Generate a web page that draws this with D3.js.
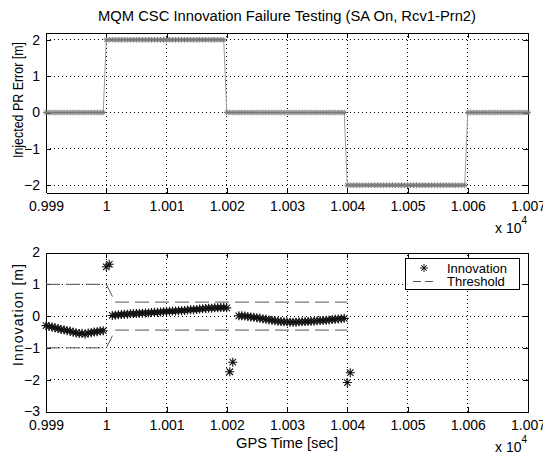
<!DOCTYPE html>
<html>
<head>
<meta charset="utf-8">
<script src="https://cdn.jsdelivr.net/npm/d3@7.9.0/dist/d3.min.js"></script>
<style>
  body { margin: 0; background: #fff; }
  text { font-family: "Liberation Sans", Arial, sans-serif; fill: #000; }
  .axis path, .axis line { stroke: #000; shape-rendering: crispEdges; }
  .axis text { font-size: 14px; font-family: "Liberation Sans", Arial, sans-serif; }
  .grid line { stroke: #000; stroke-dasharray: 1,3; shape-rendering: crispEdges; }
</style>
</head>
<body>
<svg id="chart" width="543" height="457"></svg>
<script>
// GPS time ticks (sec) and their labels (shown in units of 1e4)
const xTicks = [9990, 10000, 10010, 10020, 10030, 10040, 10050, 10060, 10070];
const xTickLabels = ['0.999', '1', '1.001', '1.002', '1.003', '1.004', '1.005', '1.006', '1.007'];
const topYTicks = [-2, -1, 0, 1, 2];
const botYTicks = [-3, -2, -1, 0, 1, 2];

// injected pseudorange error: a level held from each switch time
const stepTimes = [9990, 10000, 10020, 10040, 10060];
const stepLevels = [0, 2, 0, -2, 0];
const sampleStep = 0.5;

// innovation samples, one run per start time, 0.5 s apart
const innovStarts = [9990, 10000, 10001, 10020.5, 10022, 10040];
const innovRuns = [
  [-0.30, -0.33, -0.34, -0.37, -0.39, -0.42, -0.43, -0.46, -0.47, -0.51, -0.52, -0.55, -0.54, -0.57, -0.53, -0.52, -0.50, -0.49, -0.47, -0.46],
  [1.55, 1.63],
  [0.02, 0.03, 0.04, 0.05, 0.06, 0.06, 0.07, 0.08, 0.08, 0.09, 0.09, 0.10, 0.10, 0.11, 0.12, 0.12, 0.13, 0.14, 0.15, 0.15,
   0.16, 0.16, 0.17, 0.17, 0.18, 0.19, 0.20, 0.20, 0.21, 0.22, 0.23, 0.24, 0.25, 0.25, 0.26, 0.26, 0.27, 0.27, 0.26],
  [-1.75, -1.45],
  [0.01, 0.01, 0.00, -0.01, -0.03, -0.04, -0.05, -0.07, -0.08, -0.10, -0.12, -0.13, -0.15, -0.16, -0.17, -0.18, -0.18, -0.19,
   -0.19, -0.19, -0.18, -0.18, -0.17, -0.17, -0.16, -0.16, -0.15, -0.14, -0.14, -0.13, -0.12, -0.11, -0.10, -0.09, -0.08, -0.07],
  [-2.09, -1.78]
];

// detection threshold (+/-)
const thrTimes = [9990, 10000, 10001.5, 10040];
const thrUpper = [1, 1, 0.44, 0.44];
const thrLower = [-1, -1, -0.44, -0.44];

const svg = d3.select('#chart');
const left = 46, right = 528;
const tickLen = 5;

let x = d3.scaleLinear().domain([9990, 10070]).range([left, right]);
let yTop = d3.scaleLinear().domain([-2.2, 2.2]).range([192.5, 32.5]);
let yBot = d3.scaleLinear().domain([-3, 2]).range([411.5, 252.5]);

function starPath(s) {
  let d = s * 0.72;
  return `M${-s},0H${s}M0,${-s}V${s}M${-d},${-d}L${d},${d}M${-d},${d}L${d},${-d}`;
}

function drawFrame(y, yTicks) {
  let [y0, y1] = y.range();
  let g = svg.append('g');

  // dotted grid
  let grid = g.append('g').attr('class', 'grid');
  xTicks.slice(1, -1).forEach((t) => {
    grid.append('line').attr('x1', x(t)).attr('x2', x(t)).attr('y1', y0).attr('y2', y1);
  });
  yTicks.forEach((v) => {
    if (y(v) <= y1 + 1 || y(v) >= y0 - 1) return;
    grid.append('line').attr('x1', left).attr('x2', right).attr('y1', y(v)).attr('y2', y(v));
  });

  let fmt = (d) => xTickLabels[xTicks.indexOf(d)];
  g.append('g').attr('class', 'axis')
    .attr('transform', `translate(0,${y0})`)
    .call(d3.axisBottom(x).tickValues(xTicks).tickFormat(fmt).tickSize(-tickLen).tickPadding(8.5).tickSizeOuter(0));
  g.append('g').attr('class', 'axis')
    .attr('transform', `translate(0,${y1})`)
    .call(d3.axisTop(x).tickValues(xTicks).tickFormat('').tickSize(-tickLen).tickSizeOuter(0));
  g.append('g').attr('class', 'axis')
    .attr('transform', `translate(${left},0)`)
    .call(d3.axisLeft(y).tickValues(yTicks).tickFormat(d3.format('d')).tickSize(-tickLen).tickPadding(6).tickSizeOuter(0));
  g.append('g').attr('class', 'axis')
    .attr('transform', `translate(${right},0)`)
    .call(d3.axisRight(y).tickValues(yTicks).tickFormat('').tickSize(-tickLen).tickSizeOuter(0));

  // exponent note under the axis
  let ex = g.append('text').attr('x', 495).attr('y', y0 + 40.2).style('font-size', '14px');
  ex.append('tspan').text('x 10');
  ex.append('tspan').attr('dy', -9).style('font-size', '10px').text('4');
  return g;
}

// ---- top panel: injected error ----
drawFrame(yTop, topYTicks);

let injTimes = d3.range(9990, 10070 + 1e-9, sampleStep);
let injData = injTimes.map((t) => {
  let i = d3.bisectRight(stepTimes, t) - 1;
  return { t: t, v: stepLevels[i] };
});

svg.append('path')
  .datum(injData)
  .attr('fill', 'none')
  .attr('stroke', '#9a9a9a')
  .attr('stroke-width', 1)
  .attr('d', d3.line().x((d) => x(d.t)).y((d) => yTop(d.v)));

svg.append('g').selectAll('path')
  .data(injData)
  .join('path')
  .attr('transform', (d) => `translate(${x(d.t)},${yTop(d.v)})`)
  .attr('d', starPath(2.8))
  .attr('stroke', '#777')
  .attr('stroke-width', 1)
  .attr('fill', 'none');

svg.append('text')
  .attr('x', (left + right) / 2).attr('y', 21)
  .attr('text-anchor', 'middle')
  .attr('textLength', 378)
  .attr('lengthAdjust', 'spacingAndGlyphs')
  .style('font-size', '14px')
  .text('MQM CSC Innovation Failure Testing (SA On, Rcv1-Prn2)');

svg.append('text')
  .attr('transform', 'translate(23,100) rotate(-90)')
  .attr('text-anchor', 'middle')
  .attr('textLength', 116)
  .attr('lengthAdjust', 'spacingAndGlyphs')
  .style('font-size', '14px')
  .text('Injected PR Error [m]');

// ---- bottom panel: innovation vs threshold ----
drawFrame(yBot, botYTicks);

let thrLine = d3.line().x((d) => x(d[0])).y((d) => yBot(d[1]));
[thrUpper, thrLower].forEach((vals) => {
  svg.append('path')
    .datum(thrTimes.map((t, i) => [t, vals[i]]))
    .attr('fill', 'none')
    .attr('stroke', '#555')
    .attr('stroke-width', 1)
    .attr('stroke-dasharray', '14,6')
    .attr('d', thrLine);
});

let innovData = [];
innovRuns.forEach((run, r) => {
  run.forEach((v, i) => innovData.push({ t: innovStarts[r] + i * sampleStep, v: v }));
});

svg.append('g').selectAll('path')
  .data(innovData)
  .join('path')
  .attr('transform', (d) => `translate(${x(d.t)},${yBot(d.v)})`)
  .attr('d', starPath(4.5))
  .attr('stroke', '#111')
  .attr('stroke-width', 1.1)
  .attr('fill', 'none');

svg.append('text')
  .attr('transform', 'translate(23,315) rotate(-90)')
  .attr('text-anchor', 'middle')
  .attr('textLength', 102)
  .attr('lengthAdjust', 'spacing')
  .style('font-size', '14px')
  .text('Innovation [m]');

svg.append('text')
  .attr('x', (left + right) / 2).attr('y', 448)
  .attr('text-anchor', 'middle')
  .attr('textLength', 102)
  .attr('lengthAdjust', 'spacingAndGlyphs')
  .style('font-size', '14px')
  .text('GPS Time [sec]');

// legend
let legend = svg.append('g');
legend.append('rect')
  .attr('x', 405.5).attr('y', 258.5).attr('width', 114).attr('height', 31)
  .attr('fill', '#fff').attr('stroke', '#000').attr('shape-rendering', 'crispEdges');
legend.append('path')
  .attr('transform', 'translate(424,268)')
  .attr('d', starPath(4))
  .attr('stroke', '#111').attr('fill', 'none');
legend.append('line')
  .attr('x1', 413).attr('x2', 435).attr('y1', 281.5).attr('y2', 281.5)
  .attr('stroke', '#555').attr('stroke-dasharray', '8,4');
legend.append('text').attr('x', 447).attr('y', 272.5).style('font-size', '13px').text('Innovation');
legend.append('text').attr('x', 447).attr('y', 286).style('font-size', '13px').text('Threshold');
</script>
</body>
</html>
